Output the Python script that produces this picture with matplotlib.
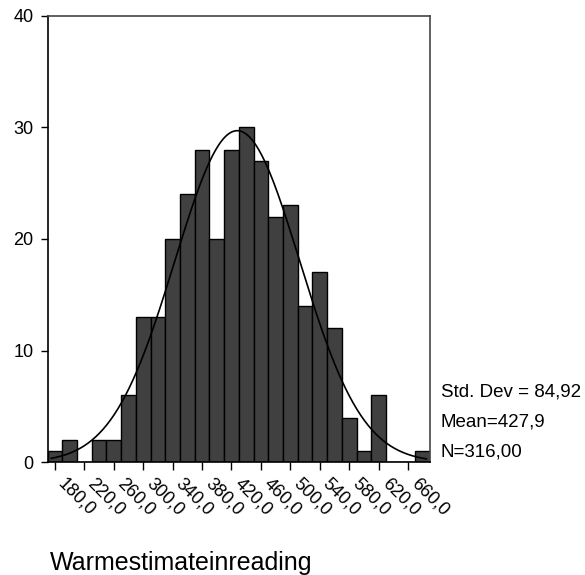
import numpy as np
from matplotlib import pyplot as plt

plt.rcParams['font.family'] = ['Liberation Sans', 'DejaVu Sans']

# histogram of warm estimates, 20-unit bins
BIN_CENTERS = [180, 200, 220, 240, 260, 280, 300, 320, 340, 360, 380, 400, 420,
               440, 460, 480, 500, 520, 540, 560, 580, 600, 620, 640, 660, 680]
COUNTS = [1, 2, 0, 2, 2, 6, 13, 13, 20, 24, 28, 20, 28,
          30, 27, 22, 23, 14, 17, 12, 4, 1, 6, 0, 0, 1]
TICKS = [180, 220, 260, 300, 340, 380, 420, 460, 500, 540, 580, 620, 660]
TICK_LABELS = ['{},0'.format(t) for t in TICKS]
BIN_WIDTH = 20

STD_DEV = 84.92
MEAN = 427.9
N = 316

def comma(value, digits):
    return '{:.{}f}'.format(value, digits).replace('.', ',')

def genHistogram():
    fig = plt.figure(figsize=(5.85, 5.75), dpi=100)
    ax = fig.add_axes([0.0812, 0.196, 0.654, 0.777])

    ax.bar(BIN_CENTERS, COUNTS, width=BIN_WIDTH, color='#404040',
           edgecolor='black', linewidth=1.0, zorder=2)

    # normal curve scaled to counts per bin
    x = np.linspace(175, 685, 400)
    y = N * BIN_WIDTH / (STD_DEV * np.sqrt(2 * np.pi)) * np.exp(-0.5 * ((x - MEAN) / STD_DEV) ** 2)
    ax.plot(x, y, color='black', linewidth=1.2, zorder=3)

    ax.set_xlim(170, 690)
    ax.set_ylim(0, 40)
    ax.set_yticks([0, 10, 20, 30, 40])
    ax.set_xticks(TICKS)
    ax.set_xticklabels(TICK_LABELS, rotation=-45, ha='left', va='bottom',
                       rotation_mode='anchor')
    ax.tick_params(axis='both', direction='out', length=5, width=1, labelsize=13,
                   colors='black')
    ax.tick_params(axis='x', pad=12, length=6)
    ax.tick_params(axis='y', pad=5)

    for side in ['left', 'bottom']:
        ax.spines[side].set_color('black')
        ax.spines[side].set_linewidth(1.2)
    for side in ['top', 'right']:
        ax.spines[side].set_color('#444444')
        ax.spines[side].set_linewidth(1.2)

    stats = ['Std. Dev = ' + comma(STD_DEV, 2),
             'Mean=' + comma(MEAN, 1),
             'N=' + comma(N, 2)]
    for i, line in enumerate(stats):
        fig.text(441 / 585, 1 - (392 + 30 * i) / 575, line, fontsize=13.5,
                 va='center', ha='left')

    fig.text(50 / 585, 1 - 563 / 575, 'Warmestimateinreading', fontsize=18,
             va='center', ha='left')

    fig.savefig('out.png', dpi=100)

if __name__ == '__main__':
    genHistogram()
